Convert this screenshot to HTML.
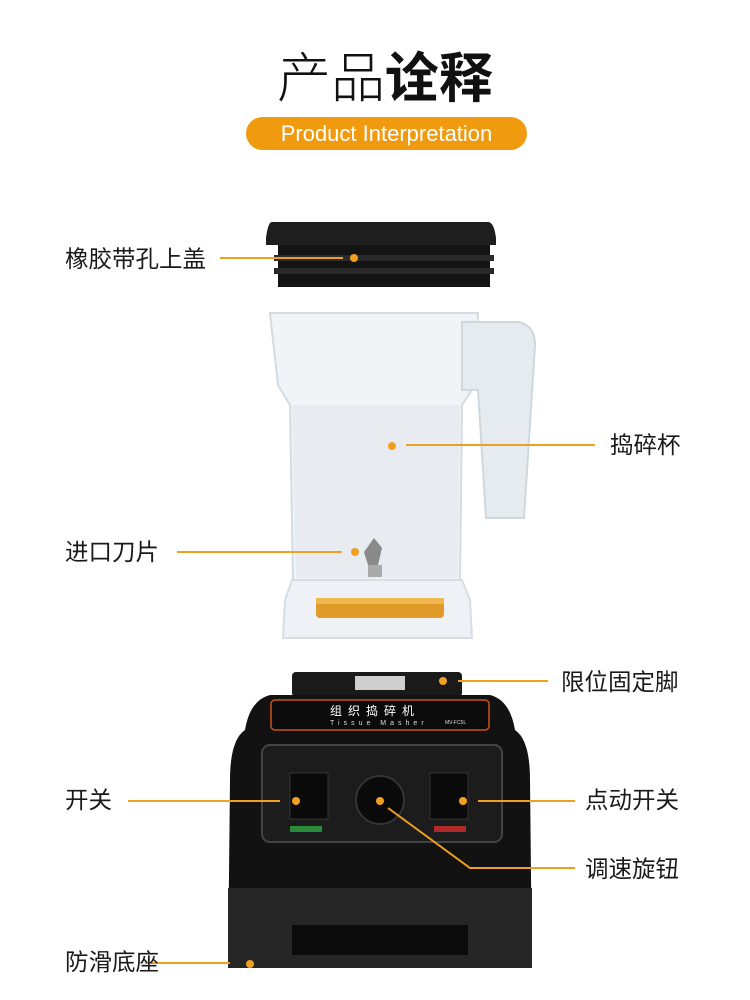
<!DOCTYPE html>
<html><head><meta charset="utf-8"><style>
html,body{margin:0;padding:0;background:#fff;}
body{width:750px;height:1000px;position:relative;overflow:hidden;font-family:"Liberation Sans","Noto Sans CJK SC",sans-serif;}
.t{position:absolute;font-size:23.5px;color:#1a1a1a;line-height:1;white-space:nowrap;}
</style></head><body>
<div style="position:absolute;left:0;width:770px;top:48px;text-align:center;font-size:54px;line-height:62px;color:#111;"><span style="font-weight:300">产品</span><span style="font-weight:bold">诠释</span></div>
<div style="position:absolute;left:246px;top:117px;width:281px;height:33px;border-radius:17px;background:#f09a10;color:#fff;font-size:22px;line-height:33px;text-align:center;">Product Interpretation</div>

<svg width="750" height="1000" style="position:absolute;left:0;top:0">
<path d="M272 222 L488 222 Q494 222 496 238 L496 245 L266 245 L266 238 Q268 222 272 222Z" fill="#1e1e1e"/>
<rect x="278" y="245" width="212" height="42" fill="#141414"/>
<rect x="274" y="255" width="220" height="6" fill="#2a2a2a"/>
<rect x="274" y="268" width="220" height="6" fill="#2a2a2a"/>
<path d="M270 313 L478 313 L475 385 L462 405 L460 580 L293 580 L290 405 L278 385Z" fill="#f1f4f7" stroke="#d3dbe3" stroke-width="2"/>
<path d="M292 405 L460 405 L458 578 L296 578Z" fill="#e8ecf1"/>
<path d="M462 322 L518 322 Q535 325 535 345 L524 518 L486 518 L478 390 L462 390Z" fill="#e6ebf0" stroke="#cfd7df" stroke-width="2"/>
<path d="M364 552 L374 538 L382 548 L378 565 L368 565Z" fill="#8a8a8a"/>
<rect x="368" y="565" width="14" height="12" fill="#aaa"/>
<path d="M292 580 L462 580 L470 600 L472 638 L283 638 L285 600Z" fill="#eef1f5" stroke="#d6dde4" stroke-width="2"/>
<rect x="316" y="598" width="128" height="20" rx="4" fill="#e09a28"/>
<rect x="316" y="598" width="128" height="6" fill="#f2b850"/>
<rect x="292" y="672" width="170" height="25" rx="4" fill="#1a1a1a"/>
<rect x="355" y="676" width="50" height="14" fill="#cfcfcf"/>
<path d="M270 695 L490 695 Q510 700 515 730 Q530 740 530 780 L532 968 L228 968 L230 780 Q230 740 245 730 Q250 700 270 695Z" fill="#121212"/>
<rect x="228" y="888" width="304" height="80" fill="#262626"/>
<rect x="292" y="925" width="176" height="30" fill="#0c0c0c"/>
<rect x="271" y="700" width="218" height="30" rx="4" fill="#0b0b0b" stroke="#c8541a" stroke-width="1.5"/>
<text x="330" y="715" font-size="12" fill="#fff" font-family="Noto Sans CJK SC" letter-spacing="6">组织捣碎机</text>
<text x="330" y="725" font-size="7" fill="#ddd" letter-spacing="4">Tissue Masher</text>
<text x="445" y="724" font-size="5" fill="#ddd">MV-FC5L</text>
<rect x="262" y="745" width="240" height="97" rx="8" fill="#1c1c1c" stroke="#444" stroke-width="2"/>
<rect x="290" y="773" width="38" height="46" fill="#0a0a0a" stroke="#333"/>
<rect x="430" y="773" width="38" height="46" fill="#0a0a0a" stroke="#333"/>
<rect x="290" y="826" width="32" height="6" fill="#2a8a3a"/>
<rect x="434" y="826" width="32" height="6" fill="#b02a2a"/>
<circle cx="380" cy="800" r="24" fill="#0a0a0a" stroke="#333" stroke-width="2"/>
<g stroke="#f0a020" stroke-width="2" fill="none">
<line x1="220" y1="258" x2="343" y2="258"/>
<line x1="406" y1="445" x2="595" y2="445"/>
<line x1="177" y1="552" x2="342" y2="552"/>
<line x1="458" y1="681" x2="548" y2="681"/>
<line x1="128" y1="801" x2="280" y2="801"/>
<line x1="478" y1="801" x2="575" y2="801"/>
<polyline points="388,808 470,868 575,868"/>
<line x1="145" y1="963" x2="230" y2="963"/>
</g>
<g fill="#f0a020">
<circle cx="354" cy="258" r="4"/><circle cx="392" cy="446" r="4"/><circle cx="355" cy="552" r="4"/>
<circle cx="443" cy="681" r="4"/><circle cx="296" cy="801" r="4"/><circle cx="463" cy="801" r="4"/>
<circle cx="380" cy="801" r="4"/><circle cx="250" cy="964" r="4"/>
</g>
</svg>
<div class="t" style="left:65px;top:248px">橡胶带孔上盖</div>
<div class="t" style="left:610px;top:434px">捣碎杯</div>
<div class="t" style="left:65px;top:541px">进口刀片</div>
<div class="t" style="left:561px;top:671px">限位固定脚</div>
<div class="t" style="left:65px;top:789px">开关</div>
<div class="t" style="left:585px;top:789px">点动开关</div>
<div class="t" style="left:585px;top:858px">调速旋钮</div>
<div class="t" style="left:65px;top:951px">防滑底座</div>
</body></html>
